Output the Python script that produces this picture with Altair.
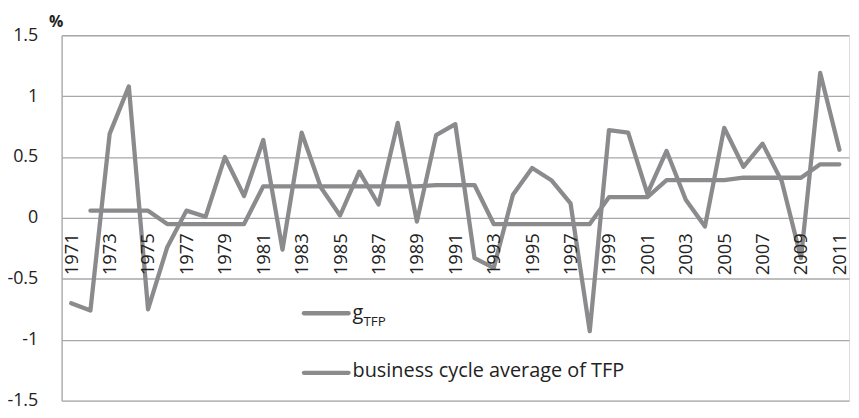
import altair as alt
import pandas as pd

years = list(range(1971, 2012))
g_tfp = [-0.70, -0.76, 0.69, 1.08, -0.75, -0.24, 0.06, 0.01, 0.50, 0.18,
         0.64, -0.26, 0.70, 0.25, 0.02, 0.38, 0.11, 0.78, -0.03, 0.68,
         0.77, -0.33, -0.41, 0.19, 0.41, 0.31, 0.12, -0.93, 0.72, 0.70,
         0.20, 0.55, 0.15, -0.07, 0.74, 0.42, 0.61, 0.30, -0.33, 1.19, 0.56]
cycle_avg = [None,
             0.06, 0.06, 0.06, 0.06,
             -0.05, -0.05, -0.05, -0.05, -0.05,
             0.26, 0.26, 0.26, 0.26, 0.26, 0.26, 0.26, 0.26, 0.26,
             0.27, 0.27, 0.27,
             -0.05, -0.05, -0.05, -0.05, -0.05, -0.05,
             0.17, 0.17, 0.17,
             0.31, 0.31, 0.31, 0.31,
             0.33, 0.33, 0.33, 0.33,
             0.44, 0.44]
series_names = ["g_TFP", "business cycle average of TFP"]
y_ticks = [-1.5, -1.0, -0.5, 0.0, 0.5, 1.0, 1.5]
x_label_years = [y for y in years if (y - 1971) % 2 == 0]

LINE = "#8b8b8e"
GRID = "#a8a8a8"
FONT = "Open Sans"
TXT = "#222222"

rows = []
for yr, v in zip(years, g_tfp):
    rows.append({"year": yr, "value": v, "series": series_names[0]})
for yr, v in zip(years, cycle_avg):
    if v is not None:
        rows.append({"year": yr, "value": v, "series": series_names[1]})
df = pd.DataFrame(rows)

W, H = 793, 368

lines = alt.Chart(df).mark_line(strokeWidth=4.3, strokeJoin="round", strokeCap="round").encode(
    x=alt.X("year:O", scale=alt.Scale(type="point", padding=0.5),
            axis=alt.Axis(values=x_label_years, labelAngle=-90, labelAlign="right",
                          labelBaseline="middle", offset=-(H / 2), domain=False, ticks=False,
                          labelPadding=15, labelFontSize=18.5, labelFont=FONT,
                          labelColor=TXT, title=None, grid=False, zindex=1)),
    y=alt.Y("value:Q", scale=alt.Scale(domain=[-1.5, 1.5], nice=False, zero=False),
            axis=alt.Axis(values=y_ticks, labelExpr="'' + datum.value", grid=True,
                          gridColor=GRID, gridWidth=1.3, domainColor=GRID, domainWidth=1.3,
                          ticks=False, tickSize=0, labelPadding=24, labelFontSize=18,
                          labelFont=FONT, labelColor=TXT,
                          title="%", titleAngle=0, titleX=-6, titleY=-9,
                          titleAlign="center", titleBaseline="alphabetic",
                          titleFont=FONT, titleFontSize=16, titleFontWeight="bold",
                          titleColor=TXT)),
    color=alt.Color("series:N", scale=alt.Scale(domain=series_names, range=[LINE, LINE]),
                    legend=None),
    detail="series:N",
)

leg_df = pd.DataFrame({"label": series_names})

leg_line1 = alt.Chart(leg_df.iloc[[0]]).mark_rule(stroke=LINE, strokeWidth=4.3, strokeCap="round").encode(
    x=alt.value(244), x2=alt.value(289), y=alt.value(280))
leg_line2 = alt.Chart(leg_df.iloc[[1]]).mark_rule(stroke=LINE, strokeWidth=4.3, strokeCap="round").encode(
    x=alt.value(244), x2=alt.value(289), y=alt.value(340))

leg_g = alt.Chart(pd.DataFrame({"t": ["g"]})).mark_text(
    align="left", baseline="alphabetic", font=FONT, fontSize=20, color=TXT).encode(
    x=alt.value(293), y=alt.value(286), text="t:N")
leg_sub = alt.Chart(pd.DataFrame({"t": ["TFP"]})).mark_text(
    align="left", baseline="alphabetic", font=FONT, fontSize=13.5, color=TXT).encode(
    x=alt.value(304), y=alt.value(293), text="t:N")
leg_t2 = alt.Chart(leg_df.iloc[[1]]).mark_text(
    align="left", baseline="alphabetic", font=FONT, fontSize=20, color=TXT).encode(
    x=alt.value(293), y=alt.value(344), text="label:N")

chart = alt.layer(lines, leg_line1, leg_line2, leg_g, leg_sub, leg_t2).properties(
    width=W, height=H,
    autosize=alt.AutoSizeParams(type="none"),
    padding={"left": 54, "top": 26, "right": 2, "bottom": 8},
).configure_view(stroke=None).configure(background="white")

chart.save("out.html", embed_options={"renderer": "svg", "actions": False})
